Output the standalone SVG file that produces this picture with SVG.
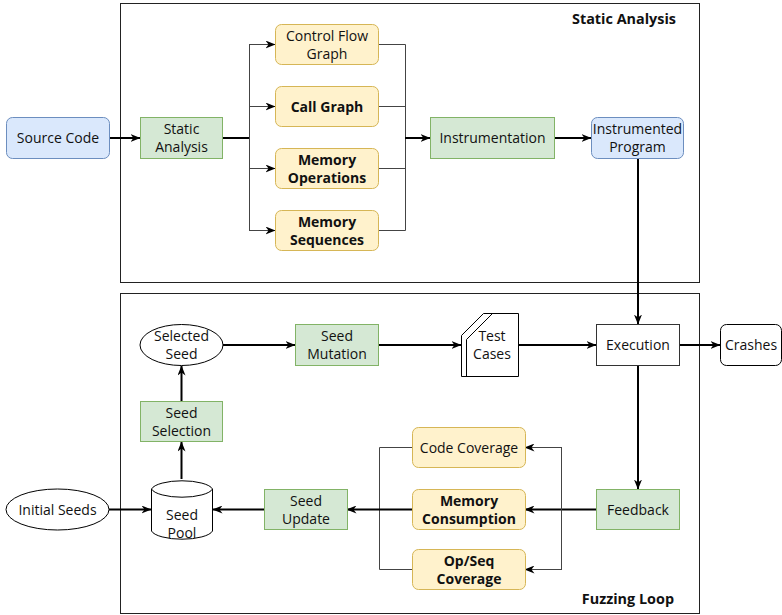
<svg xmlns="http://www.w3.org/2000/svg" width="782" height="615" viewBox="0 0 782 615">
  <defs>
    <marker id="arrow" viewBox="0 0 10 8" markerWidth="10" markerHeight="8" refX="9.5" refY="4" orient="auto" markerUnits="userSpaceOnUse">
      <path d="M0,0 L10,4 L0,8 L3,4 Z" fill="#000"/>
    </marker>
  </defs>
  <style>
    text { font-family: "Open Sans", "Noto Sans", "DejaVu Sans", sans-serif; font-size: 14px; fill: #111; text-anchor: middle; }
    .b { font-weight: bold; }
    .title { font-weight: bold; text-anchor: end; font-size: 14.4px; }
    .frame { fill: none; stroke: #222; stroke-width: 1; }
    .blue { fill: #dae8fc; stroke: #6c8ebf; stroke-width: 1; }
    .green { fill: #d5e8d4; stroke: #82b366; stroke-width: 1; }
    .yellow { fill: #fff2cc; stroke: #d6b656; stroke-width: 1; }
    .plain { fill: #fff; stroke: #000; stroke-width: 1; }
    .thick { fill: none; stroke: #000; stroke-width: 2; }
    .thin { fill: none; stroke: #444; stroke-width: 1; }
  </style>

  <rect width="782" height="615" fill="#fff"/>

  <!-- containers -->
  <g id="static-analysis-frame">
    <rect class="frame" x="120.5" y="3.5" width="579" height="279"/>
    <text class="title" x="676" y="24">Static Analysis</text>
  </g>
  <g id="fuzzing-loop-frame">
    <rect class="frame" x="120.5" y="293.5" width="579" height="320"/>
    <text class="title" x="674" y="604">Fuzzing Loop</text>
  </g>

  <!-- connectors -->
  <g id="connectors">
    <line class="thick" x1="110" y1="138" x2="140" y2="138" marker-end="url(#arrow)"/>
    <line class="thick" x1="223" y1="138" x2="249" y2="138"/>
    <path class="thin" d="M249.5,44.5 V230.5"/>
    <line class="thin" x1="249" y1="44.5" x2="275" y2="44.5" marker-end="url(#arrow)"/>
    <line class="thin" x1="249" y1="106.5" x2="275" y2="106.5" marker-end="url(#arrow)"/>
    <line class="thin" x1="249" y1="168.5" x2="275" y2="168.5" marker-end="url(#arrow)"/>
    <line class="thin" x1="249" y1="230.5" x2="275" y2="230.5" marker-end="url(#arrow)"/>
    <path class="thin" d="M379,44.5 H405.5 V230.5 H379 M379,106.5 H405.5 M379,168.5 H405.5"/>
    <line class="thick" x1="405" y1="138" x2="430" y2="138" marker-end="url(#arrow)"/>
    <line class="thick" x1="555" y1="138" x2="591" y2="138" marker-end="url(#arrow)"/>
    <line class="thick" x1="638" y1="159" x2="638" y2="324" marker-end="url(#arrow)"/>
    <line class="thick" x1="223" y1="345" x2="295" y2="345" marker-end="url(#arrow)"/>
    <line class="thick" x1="378" y1="345" x2="461" y2="345" marker-end="url(#arrow)"/>
    <line class="thick" x1="518" y1="345" x2="596" y2="345" marker-end="url(#arrow)"/>
    <line class="thick" x1="679" y1="345" x2="720" y2="345" marker-end="url(#arrow)"/>
    <line class="thick" x1="638" y1="366" x2="638" y2="489" marker-end="url(#arrow)"/>
    <line class="thick" x1="596" y1="509.5" x2="525" y2="509.5" marker-end="url(#arrow)"/>
    <path class="thin" d="M561.5,447.5 V569.5"/>
    <line class="thin" x1="562" y1="447.5" x2="525" y2="447.5" marker-end="url(#arrow)"/>
    <line class="thin" x1="562" y1="569.5" x2="525" y2="569.5" marker-end="url(#arrow)"/>
    <path class="thin" d="M412,447.5 H379.5 V569.5 H412"/>
    <line class="thick" x1="412" y1="509.5" x2="347" y2="509.5" marker-end="url(#arrow)"/>
    <line class="thick" x1="264" y1="509.5" x2="213" y2="509.5" marker-end="url(#arrow)"/>
    <line class="thick" x1="109" y1="509.5" x2="151" y2="509.5" marker-end="url(#arrow)"/>
    <line class="thick" x1="181.5" y1="479" x2="181.5" y2="442" marker-end="url(#arrow)"/>
    <line class="thick" x1="181.5" y1="401" x2="181.5" y2="366" marker-end="url(#arrow)"/>
  </g>

  <!-- static analysis nodes -->
  <g id="source-code">
    <rect class="blue" x="6.5" y="117.5" width="103" height="41" rx="6"/>
    <text x="58" y="143">Source Code</text>
  </g>
  <g id="static-analysis">
    <rect class="green" x="140.5" y="117.5" width="82" height="41"/>
    <text x="181.5" y="134">Static</text>
    <text x="181.5" y="152">Analysis</text>
  </g>
  <g id="control-flow-graph">
    <rect class="yellow" x="275.5" y="24.5" width="103" height="40" rx="6"/>
    <text x="327" y="41">Control Flow</text>
    <text x="327" y="59">Graph</text>
  </g>
  <g id="call-graph">
    <rect class="yellow" x="275.5" y="86.5" width="103" height="40" rx="6"/>
    <text class="b" x="327" y="111.5">Call Graph</text>
  </g>
  <g id="memory-operations">
    <rect class="yellow" x="275.5" y="148.5" width="103" height="40" rx="6"/>
    <text class="b" x="327" y="165">Memory</text>
    <text class="b" x="327" y="183">Operations</text>
  </g>
  <g id="memory-sequences">
    <rect class="yellow" x="275.5" y="210.5" width="103" height="40" rx="6"/>
    <text class="b" x="327" y="227">Memory</text>
    <text class="b" x="327" y="245">Sequences</text>
  </g>
  <g id="instrumentation">
    <rect class="green" x="430.5" y="117.5" width="124" height="41"/>
    <text x="492.5" y="143">Instrumentation</text>
  </g>
  <g id="instrumented-program">
    <rect class="blue" x="591.5" y="117.5" width="92" height="41" rx="6"/>
    <text x="637.5" y="134">Instrumented</text>
    <text x="637.5" y="152">Program</text>
  </g>

  <!-- fuzzing loop nodes -->
  <g id="selected-seed">
    <ellipse class="plain" cx="181.5" cy="345" rx="41.5" ry="20.5"/>
    <text x="181.5" y="341">Selected</text>
    <text x="181.5" y="359">Seed</text>
  </g>
  <g id="seed-mutation">
    <rect class="green" x="295.5" y="324.5" width="83" height="41"/>
    <text x="337" y="341">Seed</text>
    <text x="337" y="359">Mutation</text>
  </g>
  <g id="test-cases">
    <path class="plain" d="M461.5,376.5 V335.5 L483.5,313.5 H518.5 V376.5 Z"/>
    <path class="thin" d="M466.5,376.5 V339.5 L492.5,313.5" style="stroke:#000"/>
    <text x="492" y="341">Test</text>
    <text x="492" y="359">Cases</text>
  </g>
  <g id="execution">
    <rect class="plain" x="596.5" y="324.5" width="83" height="41" style="stroke:#333"/>
    <text x="638" y="350">Execution</text>
  </g>
  <g id="crashes">
    <rect class="plain" x="720.5" y="324.5" width="61" height="41" rx="6"/>
    <text x="751" y="350">Crashes</text>
  </g>
  <g id="seed-selection">
    <rect class="green" x="140.5" y="401.5" width="82" height="40"/>
    <text x="181.5" y="418">Seed</text>
    <text x="181.5" y="436">Selection</text>
  </g>
  <g id="initial-seeds">
    <ellipse class="plain" cx="57.5" cy="509.5" rx="51.5" ry="20.5"/>
    <text x="57.5" y="514.5">Initial Seeds</text>
  </g>
  <g id="seed-pool">
    <path class="plain" d="M151.5,489 A31,10 0 0 1 212.5,489 V531 A31,10 0 0 1 151.5,531 Z"/>
    <path class="plain" d="M151.5,489 A31,10 0 0 0 212.5,489" style="fill:none"/>
    <text x="182" y="520">Seed</text>
    <text x="182" y="538">Pool</text>
  </g>
  <g id="seed-update">
    <rect class="green" x="264.5" y="489.5" width="83" height="40"/>
    <text x="306" y="506">Seed</text>
    <text x="306" y="524">Update</text>
  </g>
  <g id="code-coverage">
    <rect class="yellow" x="412.5" y="427.5" width="113" height="40" rx="6"/>
    <text x="469" y="452.5">Code Coverage</text>
  </g>
  <g id="memory-consumption">
    <rect class="yellow" x="412.5" y="489.5" width="113" height="40" rx="6"/>
    <text class="b" x="469" y="506">Memory</text>
    <text class="b" x="469" y="524">Consumption</text>
  </g>
  <g id="op-seq-coverage">
    <rect class="yellow" x="412.5" y="549.5" width="113" height="40" rx="6"/>
    <text class="b" x="469" y="566">Op/Seq</text>
    <text class="b" x="469" y="584">Coverage</text>
  </g>
  <g id="feedback">
    <rect class="green" x="596.5" y="489.5" width="83" height="40"/>
    <text x="638" y="514.5">Feedback</text>
  </g>
</svg>
